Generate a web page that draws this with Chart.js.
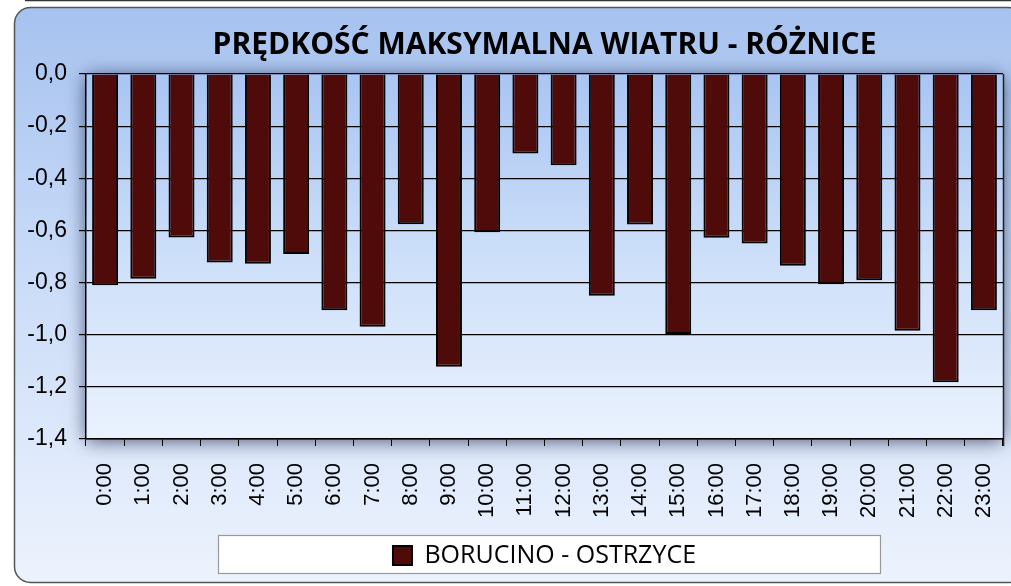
<!DOCTYPE html>
<html>
<head>
<meta charset="utf-8">
<script src="https://cdn.jsdelivr.net/npm/chart.js@4"></script>
<style>
  html, body { margin: 0; padding: 0; background: #ffffff; }
  #wykres { display: block; }
</style>
</head>
<body>
<canvas id="wykres" width="1011" height="586"></canvas>
<script>
// dane
const godziny = ["0:00", "1:00", "2:00", "3:00", "4:00", "5:00", "6:00", "7:00", "8:00", "9:00", "10:00", "11:00",
  "12:00", "13:00", "14:00", "15:00", "16:00", "17:00", "18:00", "19:00", "20:00", "21:00", "22:00", "23:00"];
const roznice = [-0.81, -0.785, -0.627, -0.723, -0.728, -0.69, -0.906, -0.969, -0.576, -1.123, -0.607, -0.305,
  -0.35, -0.851, -0.577, -0.997, -0.628, -0.65, -0.735, -0.806, -0.791, -0.985, -1.182, -0.906];
const tytul = "PRĘDKOŚĆ MAKSYMALNA WIATRU - RÓŻNICE";
const nazwaSerii = "BORUCINO - OSTRZYCE";

// tlo wykresu, tlo obszaru kreslenia i ramka legendy
const tlo = {
  id: "tlo",
  beforeDraw(chart) {
    const ctx = chart.ctx;
    const a = chart.chartArea;
    ctx.save();
    // gorna linia ramki
    ctx.strokeStyle = "#333";
    ctx.lineWidth = 1.5;
    ctx.beginPath();
    ctx.moveTo(25, 0.5);
    ctx.lineTo(1011, 0.5);
    ctx.stroke();
    // zaokraglona ramka z gradientem
    let g = ctx.createLinearGradient(0, 8, 0, 582);
    g.addColorStop(0, "#a6c2ef");
    g.addColorStop(0.45, "#c9dbf8");
    g.addColorStop(1, "#edf3fd");
    ctx.fillStyle = g;
    ctx.beginPath();
    ctx.roundRect(14.5, 7.5, 1010, 575, 16);
    ctx.fill();
    ctx.strokeStyle = "#555";
    ctx.lineWidth = 1.5;
    ctx.stroke();
    // cien obszaru kreslenia
    ctx.shadowColor = "rgba(15, 25, 60, 0.7)";
    ctx.shadowBlur = 18;
    ctx.shadowOffsetX = 0;
    ctx.shadowOffsetY = 2;
    g = ctx.createLinearGradient(0, a.top, 0, a.bottom);
    g.addColorStop(0, "#a9c5f2");
    g.addColorStop(0.5, "#cddff9");
    g.addColorStop(1, "#eaf2fe");
    ctx.fillStyle = g;
    ctx.fillRect(a.left, a.top, a.right - a.left, a.bottom - a.top);
    ctx.shadowColor = "transparent";
    ctx.shadowBlur = 0;
    // prawa krawedz
    ctx.strokeStyle = "#222";
    ctx.lineWidth = 1.5;
    ctx.beginPath();
    ctx.moveTo(a.right + 0.5, a.top);
    ctx.lineTo(a.right + 0.5, a.bottom + 7);
    ctx.stroke();
    // ramka legendy
    ctx.fillStyle = "#ffffff";
    ctx.fillRect(218, 535, 663, 39);
    ctx.strokeStyle = "#999";
    ctx.lineWidth = 1.2;
    ctx.strokeRect(218.5, 535.5, 662, 38);
    ctx.restore();
  }
};

const config = {
  type: "bar",
  data: {
    labels: godziny,
    datasets: [
      {
        label: nazwaSerii,
        data: roznice,
        backgroundColor: "#4f0a0a",
        borderColor: "#000000",
        borderWidth: 2,
        barPercentage: 0.68,
        categoryPercentage: 1.0,
      },
    ],
  },
  options: {
    responsive: false,
    animation: false,
    layout: { padding: { left: 0, right: 8, top: 0, bottom: 8 } },
    plugins: {
      title: {
        display: true,
        fullSize: false,
        text: tytul,
        color: "#000",
        font: { family: "'Open Sans', sans-serif", size: 30, weight: "bold" },
        padding: { top: 27, bottom: 11 },
      },
      legend: {
        position: "bottom",
        fullSize: false,
        labels: {
          color: "#000",
          font: { family: "'Open Sans', sans-serif", size: 25 },
          boxWidth: 19,
          boxHeight: 19,
          padding: 8,
        },
      },
      tooltip: { enabled: false },
    },
    scales: {
      x: {
        grid: { drawOnChartArea: false, drawTicks: true, tickLength: 7, color: "#000" },
        border: { color: "#000", width: 1.5 },
        ticks: {
          color: "#000",
          font: { family: "'Liberation Sans', Arial, sans-serif", size: 22 },
          minRotation: 90,
          maxRotation: 90,
          autoSkip: false,
          padding: 17,
        },
        afterFit(s) {
          s.height = 96;
          s.paddingLeft = 0;
          s.paddingRight = 0;
        },
      },
      y: {
        min: -1.4,
        max: 0,
        grid: { color: "#000", lineWidth: 1.2, tickLength: 7 },
        border: { color: "#000", width: 1.5 },
        ticks: {
          stepSize: 0.2,
          color: "#000",
          font: { family: "'Liberation Sans', Arial, sans-serif", size: 23 },
          padding: 12,
          callback: (v) => v.toFixed(1).replace(".", ",").replace("-0,0", "0,0"),
        },
        afterFit(s) { s.width = 86; },
      },
    },
  },
  plugins: [tlo],
};

new Chart(document.getElementById("wykres"), config);
</script>
</body>
</html>
